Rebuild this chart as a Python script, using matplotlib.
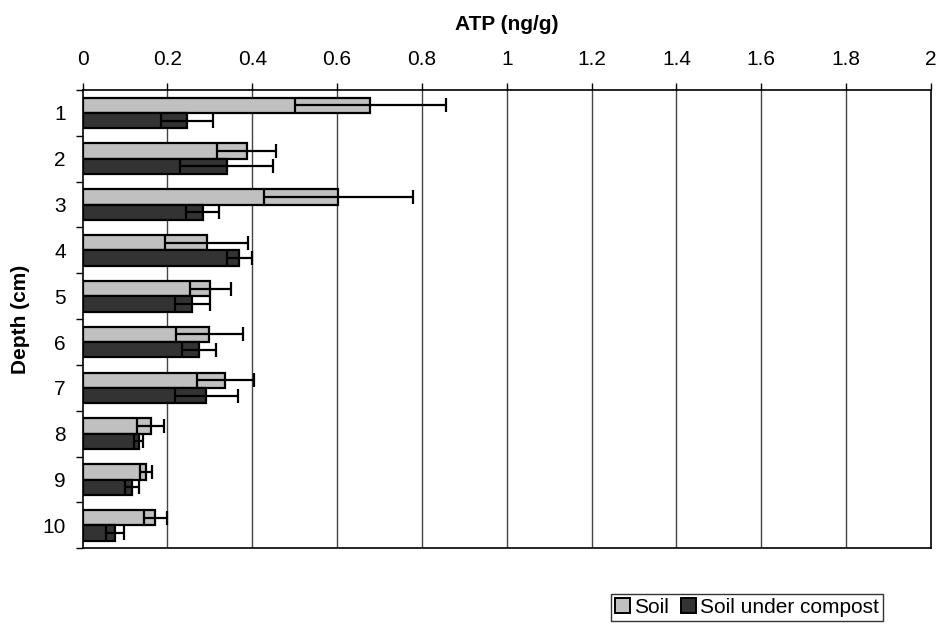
import numpy as np
import matplotlib
matplotlib.use("Agg")
import matplotlib.pyplot as plt
from matplotlib.patches import Patch

plt.rcParams['font.family'] = ['Liberation Sans', 'DejaVu Sans']

depths = ["1", "2", "3", "4", "5", "6", "7", "8", "9", "10"]
soil = [0.678, 0.387, 0.603, 0.293, 0.301, 0.299, 0.337, 0.161, 0.150, 0.172]
soil_err = [0.178, 0.069, 0.175, 0.098, 0.048, 0.079, 0.067, 0.032, 0.014, 0.026]
compost = [0.246, 0.340, 0.283, 0.370, 0.259, 0.274, 0.292, 0.132, 0.117, 0.077]
compost_err = [0.061, 0.110, 0.038, 0.029, 0.042, 0.040, 0.075, 0.011, 0.017, 0.021]
xticks = [0, 0.2, 0.4, 0.6, 0.8, 1, 1.2, 1.4, 1.6, 1.8, 2]
xtick_labels = ["0", "0.2", "0.4", "0.6", "0.8", "1", "1.2", "1.4", "1.6", "1.8", "2"]

fig = plt.figure(figsize=(9.41, 6.25), dpi=100)
ax = fig.add_axes([0.0877, 0.1227, 0.9017, 0.7333])

y = np.arange(len(depths))
h = 0.335
soil_color = "#c0c0c0"
compost_color = "#333333"

ax.barh(y - h / 2, soil, height=h, color=soil_color, edgecolor="black", linewidth=1.6, zorder=3)
ax.barh(y + h / 2, compost, height=h, color=compost_color, edgecolor="black", linewidth=1.6, zorder=3)
ax.errorbar(soil, y - h / 2, xerr=soil_err, fmt="none", ecolor="black",
            elinewidth=1.6, capsize=5, capthick=1.6, zorder=4)
ax.errorbar(compost, y + h / 2, xerr=compost_err, fmt="none", ecolor="black",
            elinewidth=1.6, capsize=5, capthick=1.6, zorder=4)

ax.set_xlim(0, 2)
ax.set_ylim(len(depths) - 0.5, -0.5)

ax.xaxis.tick_top()
ax.set_xticks(xticks)
ax.set_xticklabels(xtick_labels, fontsize=15)
ax.tick_params(axis="x", direction="out", length=5, width=1, pad=10)

ax.set_yticks(y)
ax.set_yticklabels(depths, fontsize=15)
ax.set_yticks(np.arange(-0.5, len(depths)), minor=True)
ax.tick_params(axis="y", which="major", length=0, pad=12)
ax.tick_params(axis="y", which="minor", direction="out", length=5, width=1)

for xv in xticks[1:-1]:
    ax.axvline(xv, color="#444444", linewidth=1, zorder=1)

for s in ax.spines.values():
    s.set_color("black")
    s.set_linewidth(1.2)

fig.text(21 / 941, 0.4896, "Depth (cm)", rotation=90, ha="center", va="center",
         fontsize=15, fontweight="bold")
fig.text(0.539, 0.9616, "ATP (ng/g)", ha="center", va="center", fontsize=15, fontweight="bold")

handles = [Patch(facecolor=soil_color, edgecolor="black", linewidth=1.4, label="Soil"),
           Patch(facecolor=compost_color, edgecolor="black", linewidth=1.4, label="Soil under compost")]
leg = fig.legend(handles=handles, loc="center", bbox_to_anchor=(0.794, 0.028), ncol=2,
                 fontsize=15, frameon=True, fancybox=False, handlelength=0.7, handleheight=0.7,
                 handletextpad=0.2, columnspacing=0.6, borderpad=0.2, borderaxespad=0)
leg.get_frame().set_edgecolor("black")
leg.get_frame().set_linewidth(1)

fig.savefig("out.png", dpi=100)
